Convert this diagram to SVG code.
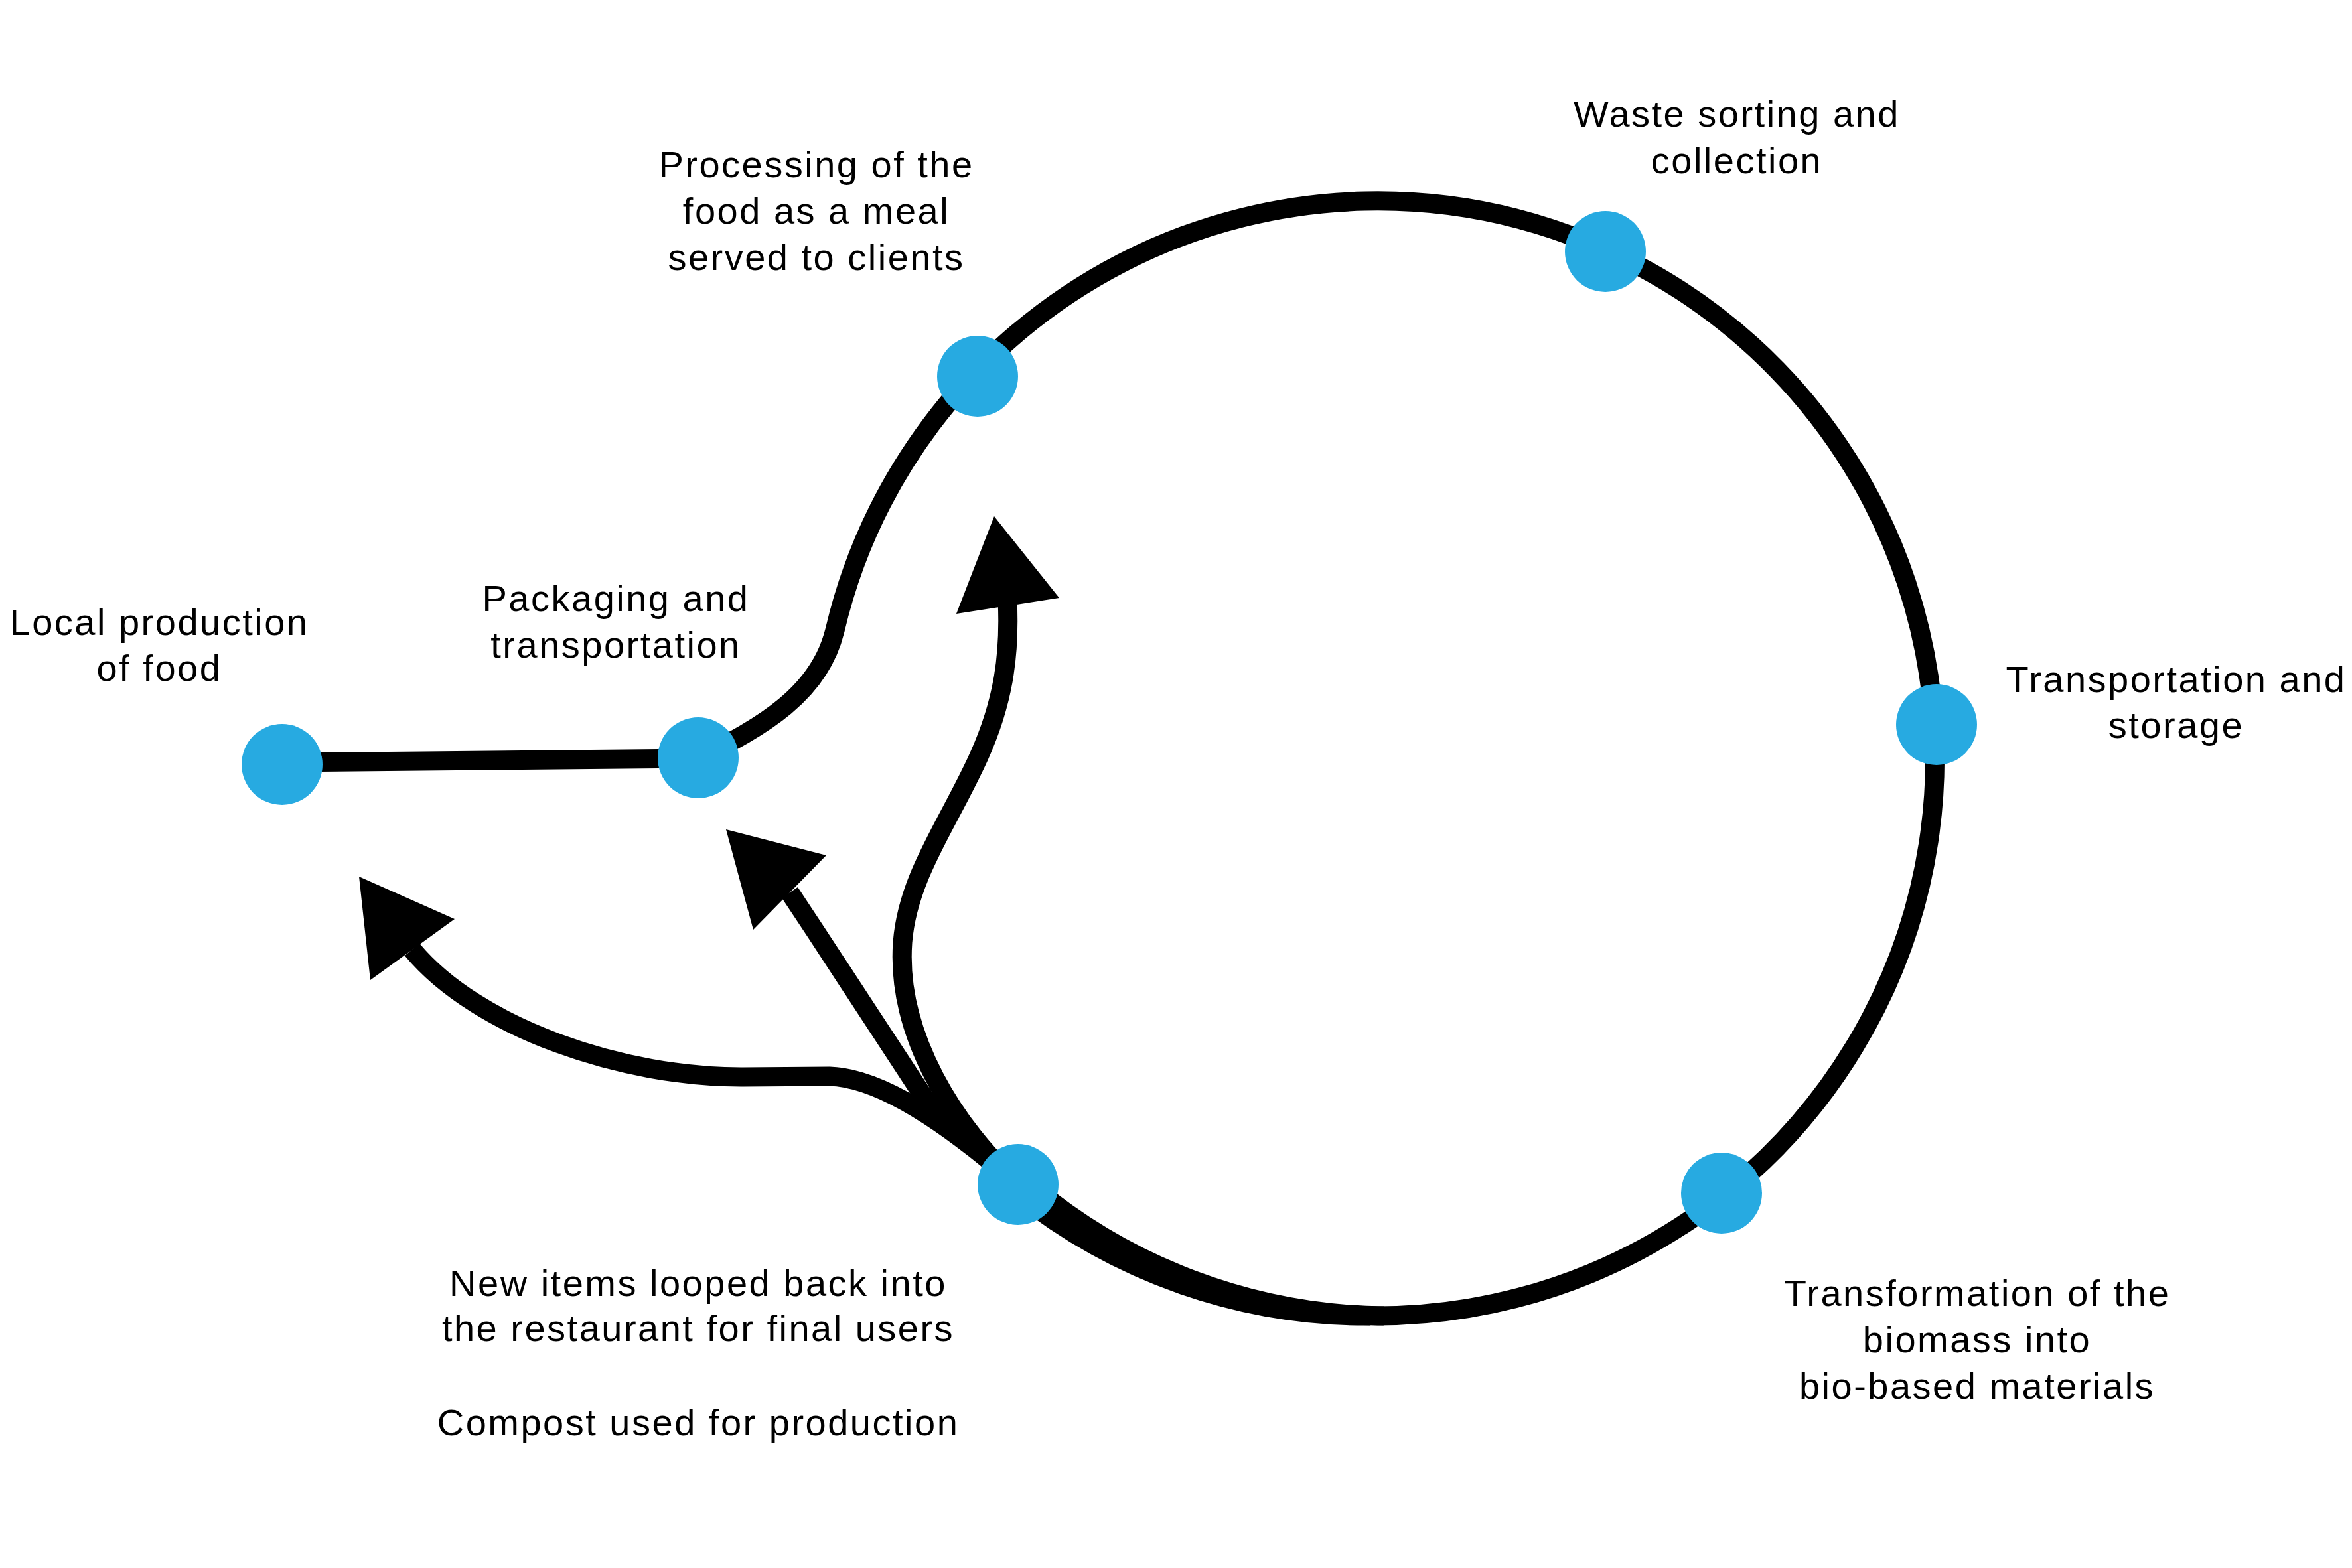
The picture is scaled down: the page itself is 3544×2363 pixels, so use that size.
<svg xmlns="http://www.w3.org/2000/svg" width="3544" height="2363" viewBox="0 0 3544 2363">
<style>
.line{fill:none;stroke:#000;stroke-width:29;stroke-linecap:butt;stroke-linejoin:round}
.head{fill:#000}
.node{fill:#27AAE1}
.lbl{font-family:"Liberation Sans",Arial,Helvetica,sans-serif;font-size:56px;letter-spacing:2.5px;fill:#000;text-anchor:middle}
</style>
<rect width="3544" height="2363" fill="#fff"/>
<g id="connectors">
  <path class="line" d="M425 1149 L1052 1143"/>
  <path class="line" d="M1052 1143 C1150 1095 1235 1045 1258 950 A840 840 0 1 1 1534 1785"/>
  <path class="line" d="M2065 1983 A840 840 0 0 1 1525 1792"/>
  <path class="line" d="M2085 1983 A840 840 0 0 1 1545 1779"/>
  <path class="line" d="M1534 1785 C1440 1700 1350 1560 1360 1420 C1368 1320 1430 1240 1475 1140 C1511 1060 1522 990 1518 905"/>
  <polygon class="head" points="1498,778 1441,925 1596,901"/>
  <path class="line" d="M1534 1785 C1470 1730 1420 1690 1392 1653 C1330 1560 1260 1450 1190 1345"/>
  <polygon class="head" points="1094,1250 1135,1401 1245,1289"/>
  <path class="line" d="M1534 1785 C1480 1740 1350 1625 1250 1622 L1120 1623 C940 1624 720 1550 621 1431"/>
  <polygon class="head" points="541,1321 558,1477 685,1385"/>
</g>
<g id="node-local">
  <circle class="node" cx="425" cy="1152" r="61"/>
  <text class="lbl" x="240" y="957">Local production</text>
  <text class="lbl" x="240" y="1026">of food</text>
</g>
<g id="node-packaging">
  <circle class="node" cx="1052" cy="1142" r="61"/>
  <text class="lbl" x="928" y="921">Packaging and</text>
  <text class="lbl" x="928" y="991">transportation</text>
</g>
<g id="node-processing">
  <circle class="node" cx="1473" cy="567" r="61"/>
  <text class="lbl" x="1230" y="267">Processing of the</text>
  <text class="lbl" x="1230" y="337">food as a meal</text>
  <text class="lbl" x="1230" y="407">served to clients</text>
</g>
<g id="node-waste">
  <circle class="node" cx="2419" cy="379" r="61"/>
  <text class="lbl" x="2617" y="191">Waste sorting and</text>
  <text class="lbl" x="2617" y="261">collection</text>
</g>
<g id="node-transport">
  <circle class="node" cx="2918" cy="1092" r="61"/>
  <text class="lbl" x="3279" y="1043">Transportation and</text>
  <text class="lbl" x="3279" y="1112">storage</text>
</g>
<g id="node-transformation">
  <circle class="node" cx="2594" cy="1798" r="61"/>
  <text class="lbl" x="2979" y="1968">Transformation of the</text>
  <text class="lbl" x="2979" y="2038">biomass into</text>
  <text class="lbl" x="2979" y="2108">bio-based materials</text>
</g>
<g id="node-loop">
  <circle class="node" cx="1534" cy="1785" r="61"/>
  <text class="lbl" x="1052" y="1953">New items looped back into</text>
  <text class="lbl" x="1052" y="2021">the restaurant for final users</text>
  <text class="lbl" x="1052" y="2163">Compost used for production</text>
</g>
</svg>
